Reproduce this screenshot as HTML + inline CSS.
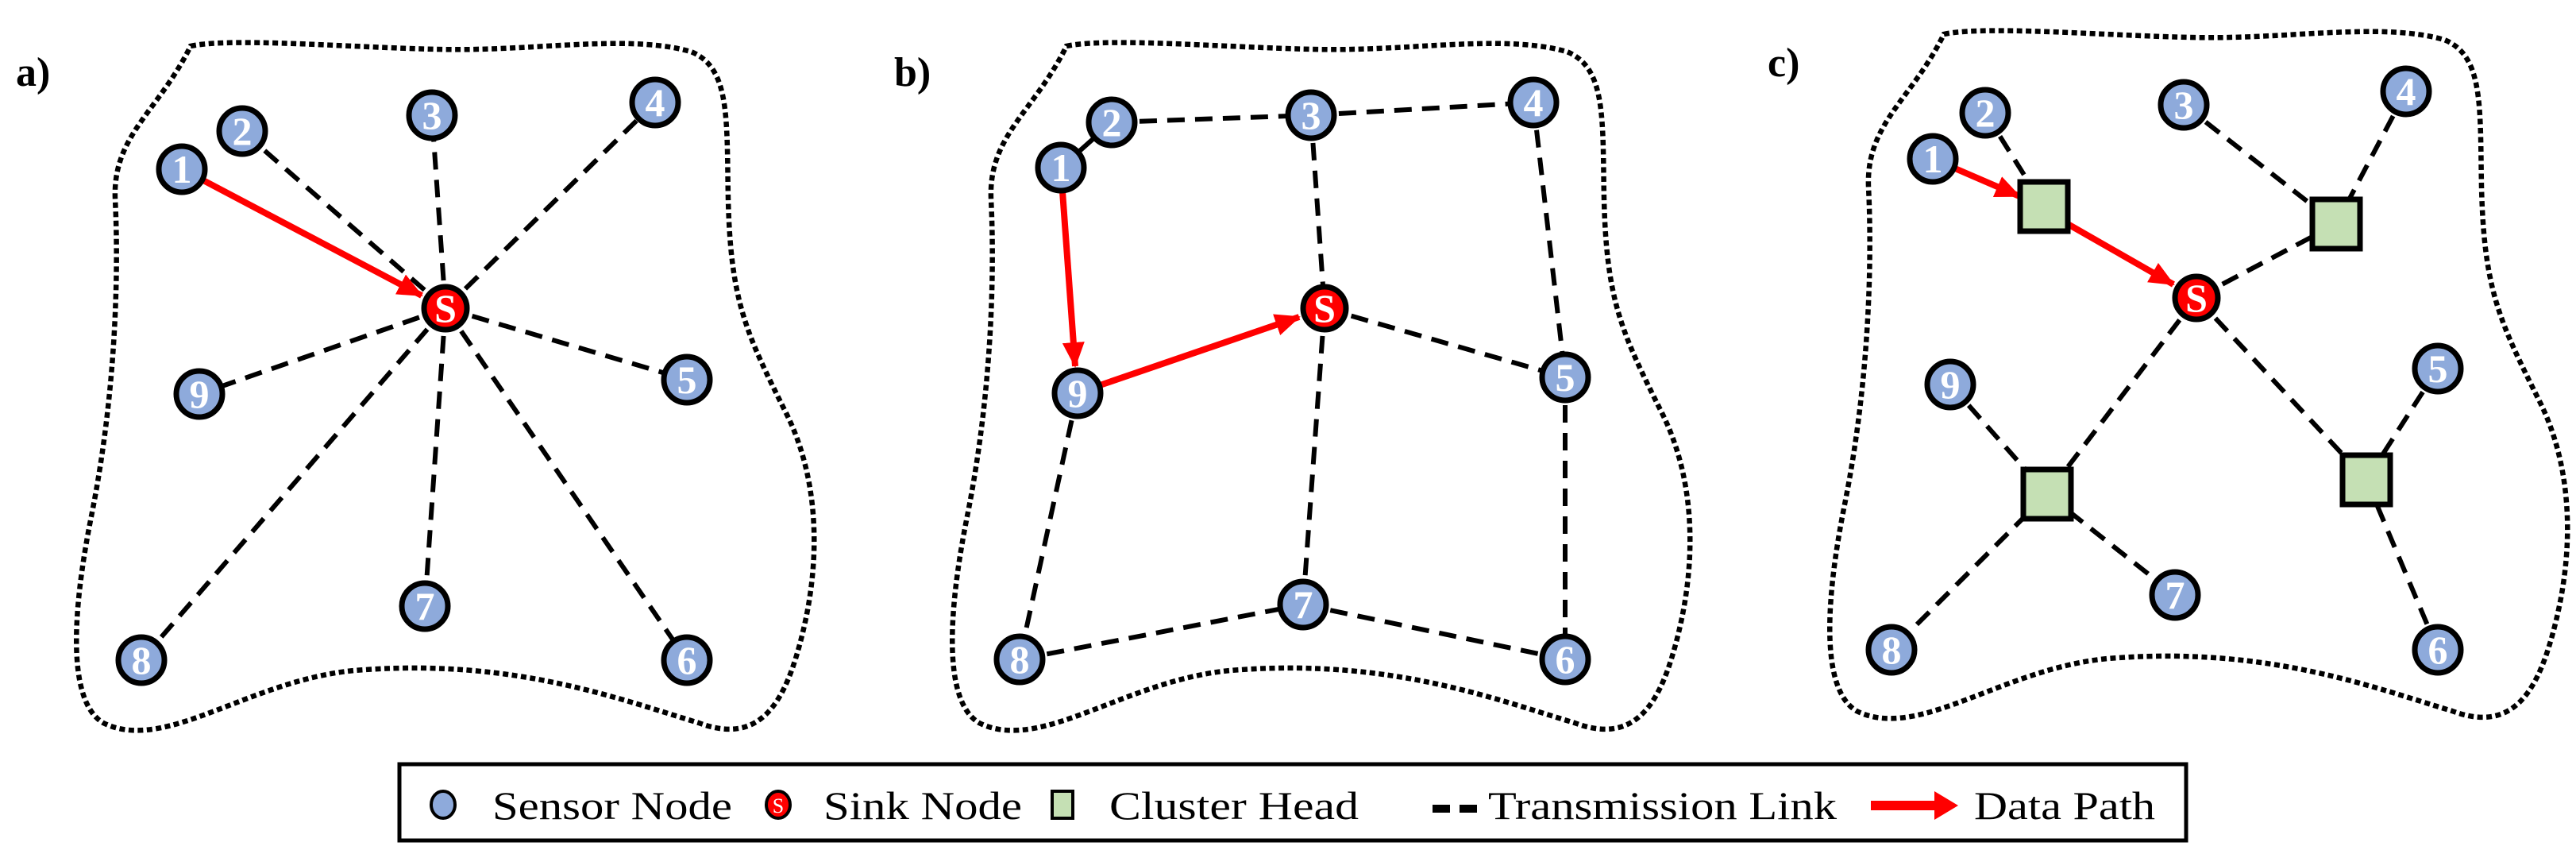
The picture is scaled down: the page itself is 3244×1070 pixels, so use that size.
<!DOCTYPE html>
<html><head><meta charset="utf-8"><style>
html,body{margin:0;padding:0;background:#fff;}
svg{display:block;}
</style></head><body>
<svg width="3244" height="1070" viewBox="0 0 3244 1070" xmlns="http://www.w3.org/2000/svg">
<defs>
<marker id="ah" markerUnits="userSpaceOnUse" markerWidth="34" markerHeight="28" refX="30" refY="14" orient="auto">
<path d="M0,0 L32,14 L0,28 Z" fill="#ff0000"/>
</marker>
<path id="blob" d="M240,58 C300,45 500,65 600,62 C700,60 800,45 870,65 C920,85 915,150 917,250 C920,380 940,420 990,520 C1030,600 1035,700 1010,800 C990,880 960,940 880,910 C780,880 650,830 460,843 C320,850 210,950 130,910 C80,880 95,750 115,650 C145,500 150,350 145,250 C142,170 200,140 240,58 Z" fill="none" stroke="#000" stroke-width="6.5" stroke-dasharray="7 4.5"/>
</defs>

<g font-family="Liberation Serif, serif" font-weight="bold" font-size="52" fill="#000">
<text x="20" y="108">a)</text>
<text x="1126" y="108">b)</text>
<text x="2226" y="96">c)</text>
</g>

<use href="#blob"/>
<use href="#blob" transform="translate(1103,0)"/>
<use href="#blob" transform="translate(2208,-15)"/>

<g stroke="#000" stroke-width="6" stroke-dasharray="22 13" fill="none">
<line x1="561" y1="388" x2="305" y2="165"/>
<line x1="561" y1="388" x2="544" y2="145"/>
<line x1="561" y1="388" x2="825" y2="129"/>
<line x1="561" y1="388" x2="251" y2="496"/>
<line x1="561" y1="388" x2="865" y2="478"/>
<line x1="561" y1="388" x2="178" y2="831"/>
<line x1="561" y1="388" x2="535" y2="763"/>
<line x1="561" y1="388" x2="865" y2="831"/>
<line x1="1400" y1="154" x2="1651" y2="145"/>
<line x1="1651" y1="145" x2="1931" y2="129"/>
<line x1="1651" y1="145" x2="1668" y2="388"/>
<line x1="1931" y1="129" x2="1971" y2="475"/>
<line x1="1668" y1="388" x2="1971" y2="475"/>
<line x1="1971" y1="475" x2="1971" y2="830"/>
<line x1="1668" y1="388" x2="1641" y2="761"/>
<line x1="1357" y1="495" x2="1284" y2="830"/>
<line x1="1284" y1="830" x2="1641" y2="761"/>
<line x1="1641" y1="761" x2="1971" y2="830"/>
<line x1="2500" y1="142" x2="2574" y2="260"/>
<line x1="2750" y1="132" x2="2942" y2="282"/>
<line x1="3030" y1="115" x2="2942" y2="282"/>
<line x1="2942" y1="282" x2="2766" y2="375"/>
<line x1="2766" y1="375" x2="2578" y2="622"/>
<line x1="2766" y1="375" x2="2980" y2="604"/>
<line x1="2456" y1="484" x2="2578" y2="622"/>
<line x1="2578" y1="622" x2="2382" y2="818"/>
<line x1="2578" y1="622" x2="2739" y2="749"/>
<line x1="3070" y1="464" x2="2980" y2="604"/>
<line x1="2980" y1="604" x2="3070" y2="818"/>
</g>
<line x1="1336" y1="211" x2="1400" y2="154" stroke="#000" stroke-width="6"/>

<g stroke="#ff0000" stroke-width="8" fill="none" marker-end="url(#ah)">
<line x1="256" y1="227" x2="531" y2="372"/>
<line x1="1338" y1="241" x2="1354" y2="461"/>
<line x1="1385" y1="485" x2="1636" y2="399"/>
<line x1="2462" y1="212" x2="2543" y2="247"/>
<line x1="2604" y1="282" x2="2737" y2="358"/>
</g>

<g fill="#c5e0b4" stroke="#000" stroke-width="7">
<rect x="2544" y="229" width="60" height="62"/>
<rect x="2912" y="251" width="60" height="62"/>
<rect x="2548" y="591" width="60" height="62"/>
<rect x="2950" y="573" width="60" height="62"/>
</g>

<g stroke="#000" stroke-width="7" fill="#8eaadb">
<circle cx="229" cy="213" r="29"/><circle cx="305" cy="165" r="29"/><circle cx="544" cy="145" r="29"/><circle cx="825" cy="129" r="29"/><circle cx="865" cy="478" r="29"/><circle cx="865" cy="831" r="29"/><circle cx="535" cy="763" r="29"/><circle cx="178" cy="831" r="29"/><circle cx="251" cy="496" r="29"/>
<circle cx="1336" cy="211" r="29"/><circle cx="1400" cy="154" r="29"/><circle cx="1651" cy="145" r="29"/><circle cx="1931" cy="129" r="29"/><circle cx="1971" cy="475" r="29"/><circle cx="1971" cy="830" r="29"/><circle cx="1641" cy="761" r="29"/><circle cx="1284" cy="830" r="29"/><circle cx="1357" cy="495" r="29"/>
<circle cx="2434" cy="200" r="29"/><circle cx="2500" cy="142" r="29"/><circle cx="2750" cy="132" r="29"/><circle cx="3030" cy="115" r="29"/><circle cx="3070" cy="464" r="29"/><circle cx="3070" cy="818" r="29"/><circle cx="2739" cy="749" r="29"/><circle cx="2382" cy="818" r="29"/><circle cx="2456" cy="484" r="29"/>
</g>
<g stroke="#000" stroke-width="7" fill="#ff0000">
<circle cx="561" cy="388" r="27"/><circle cx="1668" cy="388" r="27"/><circle cx="2766" cy="375" r="27"/>
</g>

<g font-family="Liberation Serif, serif" font-weight="bold" font-size="50" fill="#fff" text-anchor="middle">
<text x="229" y="230">1</text><text x="305" y="182">2</text><text x="544" y="162">3</text><text x="825" y="146">4</text><text x="865" y="495">5</text><text x="865" y="848">6</text><text x="535" y="780">7</text><text x="178" y="848">8</text><text x="251" y="513">9</text><text x="561" y="405">S</text>
<text x="1336" y="228">1</text><text x="1400" y="171">2</text><text x="1651" y="162">3</text><text x="1931" y="146">4</text><text x="1971" y="492">5</text><text x="1971" y="847">6</text><text x="1641" y="778">7</text><text x="1284" y="847">8</text><text x="1357" y="512">9</text><text x="1668" y="405">S</text>
<text x="2434" y="217">1</text><text x="2500" y="159">2</text><text x="2750" y="149">3</text><text x="3030" y="132">4</text><text x="3070" y="481">5</text><text x="3070" y="835">6</text><text x="2739" y="766">7</text><text x="2382" y="835">8</text><text x="2456" y="501">9</text><text x="2766" y="392">S</text>
</g>

<rect x="503" y="962" width="2250" height="96" fill="#fff" stroke="#000" stroke-width="5"/>
<ellipse cx="558" cy="1013" rx="15" ry="17" fill="#8eaadb" stroke="#000" stroke-width="4"/>
<ellipse cx="980" cy="1013" rx="15" ry="17" fill="#ff0000" stroke="#000" stroke-width="4"/>
<text x="980" y="1023" font-family="Liberation Serif, serif" font-size="26" fill="#fff" text-anchor="middle">S</text>
<rect x="1325" y="996" width="26" height="34" fill="#c5e0b4" stroke="#000" stroke-width="4"/>
<line x1="1804" y1="1018" x2="1860" y2="1018" stroke="#000" stroke-width="10" stroke-dasharray="22 12"/>
<line x1="2356" y1="1014" x2="2442" y2="1014" stroke="#ff0000" stroke-width="12"/>
<path d="M2436,996 L2466,1014 L2436,1032 Z" fill="#ff0000"/>
<g font-family="Liberation Serif, serif" font-size="50" fill="#000">
<text x="620" y="1031" textLength="302" lengthAdjust="spacingAndGlyphs">Sensor Node</text>
<text x="1037" y="1031" textLength="250" lengthAdjust="spacingAndGlyphs">Sink Node</text>
<text x="1397" y="1031" textLength="314" lengthAdjust="spacingAndGlyphs">Cluster Head</text>
<text x="1874" y="1031" textLength="439" lengthAdjust="spacingAndGlyphs">Transmission Link</text>
<text x="2486" y="1031" textLength="228" lengthAdjust="spacingAndGlyphs">Data Path</text>
</g>
</svg>
</body></html>
